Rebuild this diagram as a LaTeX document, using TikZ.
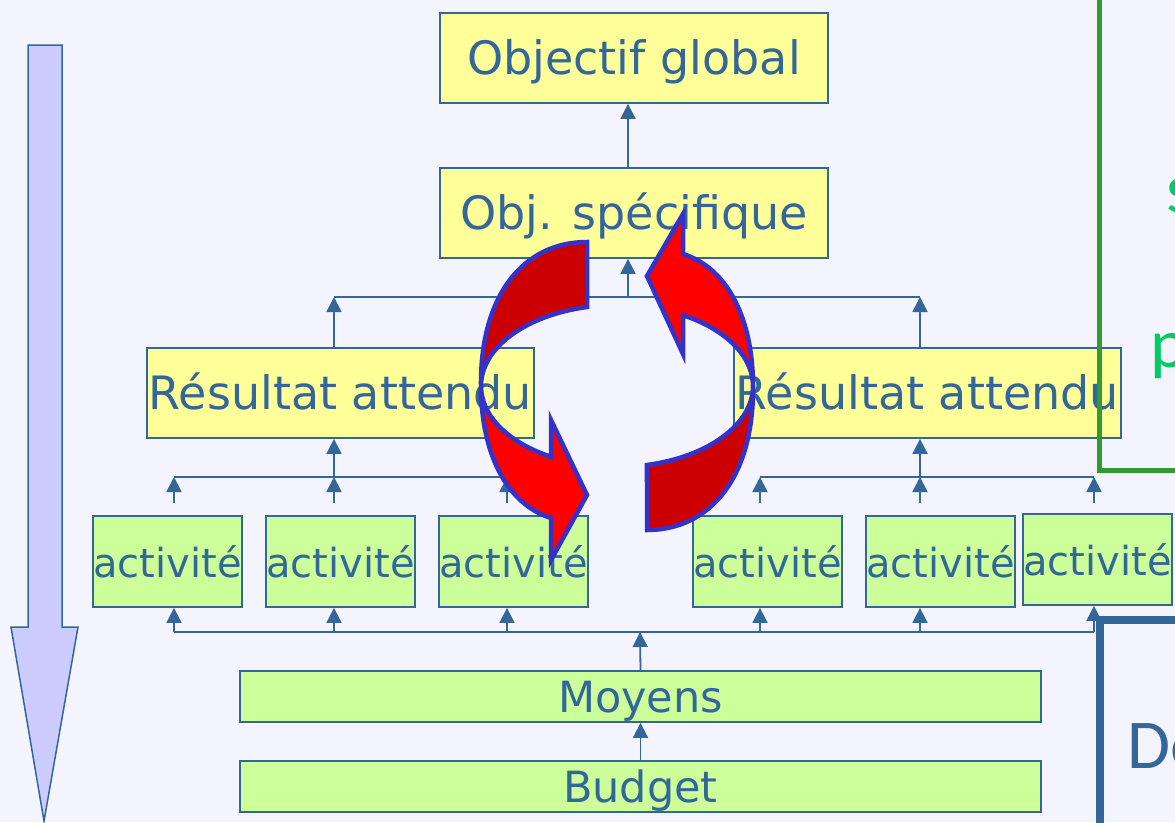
\documentclass[tikz,border=0pt]{standalone}
\usepackage{fontspec}
\setmainfont{DejaVu Sans}
\newfontfamily\sidefont{Carlito}
\usetikzlibrary{arrows.meta,calc}
\definecolor{bgc}{HTML}{F4F4FE}
\definecolor{boxyellow}{HTML}{FFFF99}
\definecolor{boxgreen}{HTML}{CCFF99}
\definecolor{lineblue}{HTML}{336699}
\definecolor{arrowlav}{HTML}{CCCCFF}
\definecolor{darkred}{HTML}{CC0000}
\definecolor{brightred}{HTML}{FF0000}
\definecolor{redborder}{HTML}{3333CC}
\definecolor{greenframe}{HTML}{339933}
\definecolor{greentext}{HTML}{00CC66}
\begin{document}
\begin{tikzpicture}[x=1pt,y=-1pt,
  box/.style={draw=lineblue, line width=1.8pt, inner sep=0pt, text=lineblue,
    text height=32pt, text depth=0pt, anchor=center},
  ybox/.style={box, fill=boxyellow, minimum width=388pt, minimum height=90pt,
    font=\fontsize{46}{55}\selectfont},
  abox/.style={box, fill=boxgreen, minimum width=147pt, minimum height=91pt,
    font=\fontsize{40}{48}\selectfont},
  mbox/.style={box, fill=boxgreen, minimum width=801pt, minimum height=51pt,
    font=\fontsize{43}{52}\selectfont},
  conn/.style={draw=lineblue, line width=1.8pt},
  arr/.style={conn, -{Triangle[width=15pt,length=15pt]}},
  redpart/.style={draw=redborder, line width=4.5pt, line join=miter},
  sidetext/.style={anchor=base west, inner sep=0pt, font=\sidefont\fontsize{70}{84}\selectfont}
]
\useasboundingbox (0,0) rectangle (1175,822);
\clip (0,0) rectangle (1175,822);
\fill[bgc] (0,0) rectangle (1175,822);

% big down arrow on the left
\path[draw=lineblue, line width=1.5pt, fill=arrowlav]
  (28,45) -- (62,45) -- (62,627) -- (78,627) -- (44,821) -- (11,627) -- (28,627) -- cycle;

% boxes
\node[ybox] (objg) at (634,58) {Objectif global};
\node[ybox] (objs) at (634,213) {Obj. spécifique};
\node[ybox, minimum width=387pt] (resL) at (340.5,393) {Résultat attendu};
\node[ybox, minimum width=387pt] (resR) at (927.5,393) {Résultat attendu};
\node[abox] (a1) at (167.5,561.5) {activité};
\node[abox] (a2) at (340.5,561.5) {activité};
\node[abox] (a3) at (513.5,561.5) {activité};
\node[abox] (a4) at (767.5,561.5) {activité};
\node[abox] (a5) at (940.5,561.5) {activité};
\node[abox] (a6) at (1097.5,559.5) {activité};
\node[mbox] (moyens) at (640.5,696.5) {Moyens};
\node[mbox] (budget) at (640.5,786.5) {Budget};

% connectors: top level
\coordinate (b1L) at (334,297);
\coordinate (b1M) at (628,297);
\coordinate (b1R) at (920,297);
\draw[arr] (b1M |- objs.north) -- (b1M |- objg.south);
\draw[conn] (b1L) -- (b1R);
\draw[arr] (b1M) -- (b1M |- objs.south);
\draw[arr] (b1L |- resL.north) -- (b1L);
\draw[arr] (b1R |- resR.north) -- (b1R);

% connectors: activities to results
\coordinate (u1) at (174,477);
\coordinate (u2) at (334,477);
\coordinate (u3) at (507,477);
\coordinate (u4) at (760,477);
\coordinate (u5) at (920,477);
\coordinate (u6) at (1094,477);
\coordinate (s1) at (174,503);
\coordinate (s2) at (334,503);
\coordinate (s3) at (507,503);
\coordinate (s4) at (760,503);
\coordinate (s5) at (920,503);
\coordinate (s6) at (1094,503);
\draw[conn] (u1) -- (u3);
\draw[conn] (u4) -- (u6);
\draw[arr] (u2) -- (u2 |- resL.south);
\draw[arr] (u5) -- (u5 |- resR.south);
\foreach \i in {1,...,6}{\draw[arr] (s\i) -- (u\i);}

% connectors: means to activities
\coordinate (d1) at (174,632);
\coordinate (d2) at (334,632);
\coordinate (d3) at (507,632);
\coordinate (d4) at (760,632);
\coordinate (d5) at (920,632);
\coordinate (d6) at (1094,632);
\coordinate (dm) at (640,632);
\draw[conn] (d1) -- (d6);
\foreach \i in {1,...,6}{\draw[arr] (d\i) -- (d\i |- a\i.south);}
\draw[arr] (moyens.north) -- (dm);
\draw[arr] (budget.north) -- (moyens.south);

% right-hand frames and clipped texts
\draw[greenframe, line width=5pt] (1099,-20) -- (1099,470) -- (1200,470);
\node[sidetext, text=greentext] (ts) at (1166,212) {s};
\node[sidetext, text=greentext] (tp) at (1150,367) {p};
\draw[lineblue, line width=8pt] (1100,850) -- (1100,620) -- (1200,620);
\node[sidetext, text=lineblue] (tde) at (1127,768) {De};

% red circular arrows
\coordinate (C) at (617,386);
% left arrow, back (dark) part
\path[redpart, fill=darkred] (587,242)
  .. controls (523,242) and (480,296) .. (481,386)
  arc[start angle=180, end angle=257.26, x radius=136, y radius=81] -- cycle;
% left arrow, front part with head
\path[redpart, fill=brightred] (481,386)
  .. controls (481,452) and (506,504) .. (551,518)
  -- (551,560) -- (587,495) -- (551,420) -- ($(C)+(119.03:136 and 81)$)
  arc[start angle=119.03, end angle=180, x radius=136, y radius=81] -- cycle;
% right arrow, back (dark) part
\path[redpart, fill=darkred] (647,530)
  .. controls (711,530) and (754,476) .. (753,386)
  arc[start angle=0, end angle=77.26, x radius=136, y radius=81] -- cycle;
% right arrow, front part with head
\path[redpart, fill=brightred] (753,386)
  .. controls (753,320) and (728,268) .. (683,254)
  -- (683,214) -- (647,276) -- (683,354) -- ($(C)+(-60.97:136 and 81)$)
  arc[start angle=-60.97, end angle=0, x radius=136, y radius=81] -- cycle;
\end{tikzpicture}
\end{document}
